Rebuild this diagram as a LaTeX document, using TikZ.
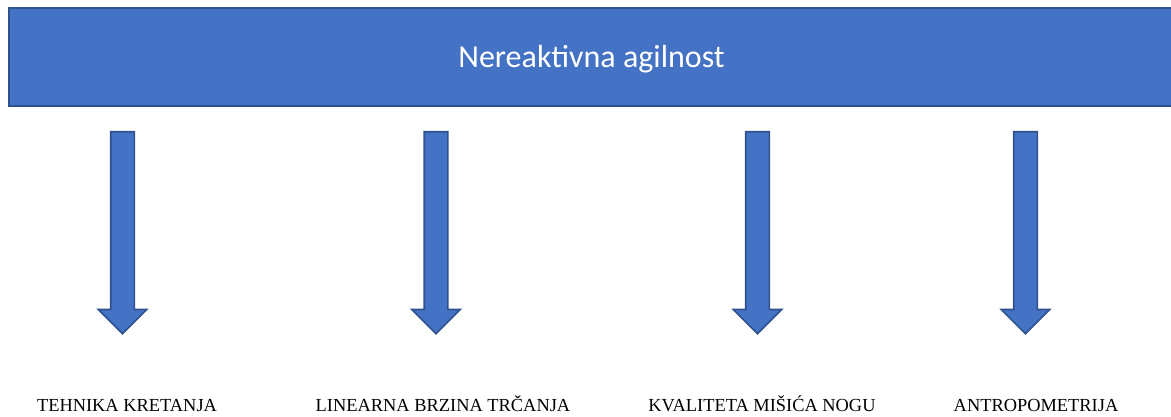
\documentclass[tikz,border=0pt]{standalone}
\usepackage{fontspec}
\setmainfont{Liberation Serif}
\newfontfamily\bannerfont{Carlito}
\usetikzlibrary{positioning, shapes.arrows}
\definecolor{boxblue}{HTML}{4472C4}
\definecolor{edgeblue}{HTML}{2F528F}

\begin{document}
\begin{tikzpicture}[x=1pt, y=1pt]
			% stilovi
			\tikzstyle{banner} = [rectangle, draw=edgeblue, fill=boxblue, line width=2pt, text=white, font=\bannerfont\fontsize{32}{38}\selectfont, inner sep=0pt, text height=21pt, text depth=0pt]
			\tikzstyle{downarrow} = [single arrow, draw=edgeblue, fill=boxblue, line width=1.6pt, minimum height=202pt, minimum width=47pt, single arrow head extend=12.5pt, single arrow tip angle=90, inner xsep=0pt, inner ysep=11pt, rotate=-90, anchor=tail]
			\tikzstyle{label} = [font=\fontsize{18.4}{22}\selectfont, anchor=base, inner sep=0pt]
			
			\useasboundingbox (0,0) rectangle (1171,417);
			
			% naslov
			\node [banner, minimum width=1165pt, minimum height=98pt] (title) at (591.5,360) {Nereaktivna agilnost};
			
			% strelice
			\node [downarrow] (arrtech) at (122.5,286) {};
			\node [downarrow] (arrlin) at (436,286) {};
			\node [downarrow] (arrmus) at (757.5,286) {};
			\node [downarrow] (arrant) at (1025.5,286) {};
			
			% oznake
			\node [label] (tech) at (127,5) {TEHNIKA KRETANJA};
			\node [label] (lin) at (443,5) {LINEARNA BRZINA TRČANJA};
			\node [label] (mus) at (762,5) {KVALITETA MIŠIĆA NOGU};
			\node [label] (ant) at (1036,5) {ANTROPOMETRIJA};
		\end{tikzpicture}
\end{document}
